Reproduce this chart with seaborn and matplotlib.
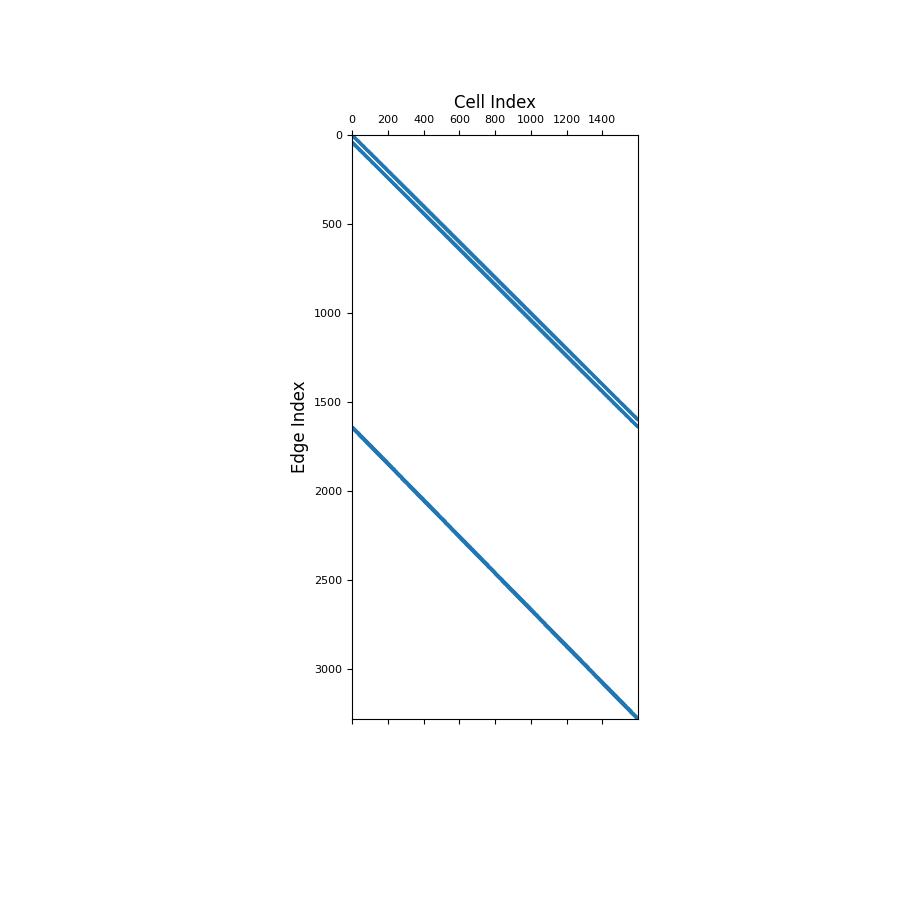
import numpy as np
import pandas as pd
import matplotlib
matplotlib.use("Agg")
import matplotlib.pyplot as plt
import seaborn as sns

# Grid dimensions behind the cell/edge incidence matrix
n_cells_x = 40
n_cells_y = 40
x_label = "Cell Index"
y_label = "Edge Index"
x_ticks = [0, 200, 400, 600, 800, 1000, 1200, 1400]
y_ticks = [0, 500, 1000, 1500, 2000, 2500, 3000]

n_cells = n_cells_x * n_cells_y
n_edges_a = n_cells_x * (n_cells_y + 1)
n_edges_b = (n_cells_x + 1) * n_cells_y
n_edges = n_edges_a + n_edges_b

rows, cols = [], []
# first block of edges: between vertically adjacent cells
for e in range(n_edges_a):
    if e < n_cells:
        rows.append(e); cols.append(e)
    if e >= n_cells_x:
        rows.append(e); cols.append(e - n_cells_x)
# second block: between horizontally adjacent cells
for k in range(n_edges_b):
    i, j = divmod(k, n_cells_x + 1)
    e = n_edges_a + k
    if j >= 1:
        rows.append(e); cols.append(i * n_cells_x + j - 1)
    if j < n_cells_x:
        rows.append(e); cols.append(i * n_cells_x + j)

df = pd.DataFrame({"cell": cols, "edge": rows})

fig = plt.figure(figsize=(9, 9), dpi=100)
ax = fig.add_axes([352 / 900, (900 - 719) / 900, 286 / 900, 584 / 900])
ms = 1.9
sns.scatterplot(data=df, x="cell", y="edge", marker="s", s=ms ** 2,
                color="#1f77b4", edgecolor="#1f77b4", linewidth=0.3, ax=ax,
                legend=False)
ax.set_xlim(-0.5, n_cells - 0.5)
ax.set_ylim(n_edges - 0.5, -0.5)
ax.set_aspect("auto")
ax.set_xticks(x_ticks)
ax.set_yticks(y_ticks)
ax.xaxis.set_ticks_position("both")
ax.xaxis.set_label_position("top")
ax.tick_params(axis="x", labeltop=True, labelbottom=False, labelsize=8)
ax.tick_params(axis="y", labelsize=8)
ax.set_xlabel(x_label, fontsize=12, labelpad=5.5)
ax.set_ylabel(y_label, fontsize=12)
for s in ax.spines.values():
    s.set_linewidth(0.8)
fig.savefig("out.png", dpi=100)
